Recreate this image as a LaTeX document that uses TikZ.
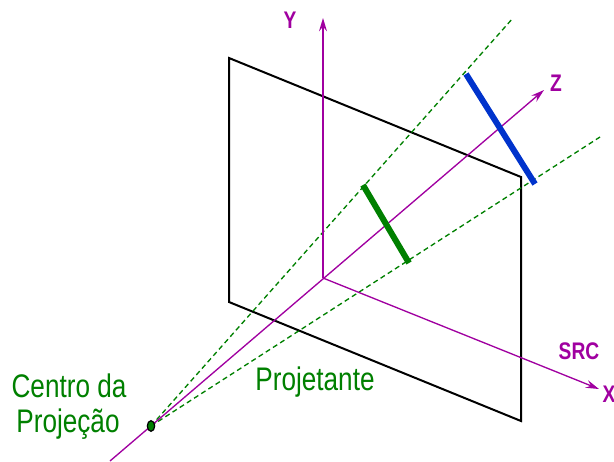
\documentclass[tikz,border=0pt]{standalone}
\usepackage{fontspec}
\setmainfont{Liberation Sans}[FakeStretch=0.8]
\usetikzlibrary{arrows.meta,shapes.geometric}

\definecolor{axiscolor}{RGB}{160,0,160}
\definecolor{projcolor}{RGB}{0,128,0}
\definecolor{segblue}{RGB}{0,51,204}

\tikzset{every picture/.style={line width=0.75pt}}
\tikzset{
  axisline/.style={color=axiscolor,line width=1pt,-{Stealth[length=10pt,width=6pt,inset=3.5pt]}},
  rayline/.style={color=projcolor,line width=1pt,dash pattern=on 3.8pt off 2.6pt},
  planeline/.style={color=black,line width=1.5pt,line join=miter},
  segline/.style={line width=4.5pt},
  axistext/.style={inner sep=0.75pt,text=axiscolor,font=\fontsize{18}{21}\selectfont\bfseries},
  greentext/.style={inner sep=0.75pt,text=projcolor,font=\fontsize{24.5}{29}\selectfont},
  centerdot/.style={ellipse,draw=black,fill=projcolor,line width=0.9pt,inner sep=0pt,minimum width=5.5pt,minimum height=8pt},
}

\begin{document}
\begin{tikzpicture}[x=0.75pt,y=0.75pt,yscale=-1,xscale=1]
\useasboundingbox (0,0) rectangle (614,461);

%Points
\coordinate (planeA) at (229,58);
\coordinate (planeB) at (521,177);
\coordinate (planeC) at (521,421);
\coordinate (planeD) at (229,302);
\coordinate (origin) at (323,278);
\coordinate (yTip) at (323,18);
\coordinate (zTip) at (544,90);
\coordinate (zTail) at (110,461);
\coordinate (xTip) at (599,389);
\coordinate (rayStart) at (151,426);
\coordinate (rayTopEnd) at (513,18);
\coordinate (rayLowEnd) at (600,137);
\coordinate (blueTop) at (466,74);
\coordinate (blueLow) at (535,184);
\coordinate (greenTop) at (363,185);
\coordinate (greenLow) at (409,263);

%Shape: Plane
\draw [planeline] (planeA) -- (planeB) -- (planeC) -- (planeD) -- cycle ;

%Lines: Rays
\draw [rayline] (rayStart) -- (rayTopEnd) ;
\draw [rayline] (rayStart) -- (rayLowEnd) ;

%Lines: Axes
\draw [axisline] (origin) -- (yTip) ;
\draw [axisline] (origin) -- (xTip) ;
\draw [axisline] (zTail) -- (zTip) ;

%Lines: Segments
\draw [segline,color=segblue] (blueTop) -- (blueLow) ;
\draw [segline,color=projcolor] (greenTop) -- (greenLow) ;

%Shape: Center
\node (centerPoint) [centerdot] at (rayStart) {};

% Text Node
\node (yLabel) [axistext] at (290,20) {Y};
% Text Node
\node (zLabel) [axistext] at (556,83) {Z};
% Text Node
\node (srcLabel) [axistext] at (579,351) {SRC};
% Text Node
\node (xLabel) [axistext] at (609,394) {X};
% Text Node
\node (centroLabel) [greentext] at (69,386) {Centro da};
% Text Node
\node (projecaoLabel) [greentext] at (68,424) {Projeção};
% Text Node
\node (projetanteLabel) [greentext] at (315,382) {Projetante};

\end{tikzpicture}
\end{document}
